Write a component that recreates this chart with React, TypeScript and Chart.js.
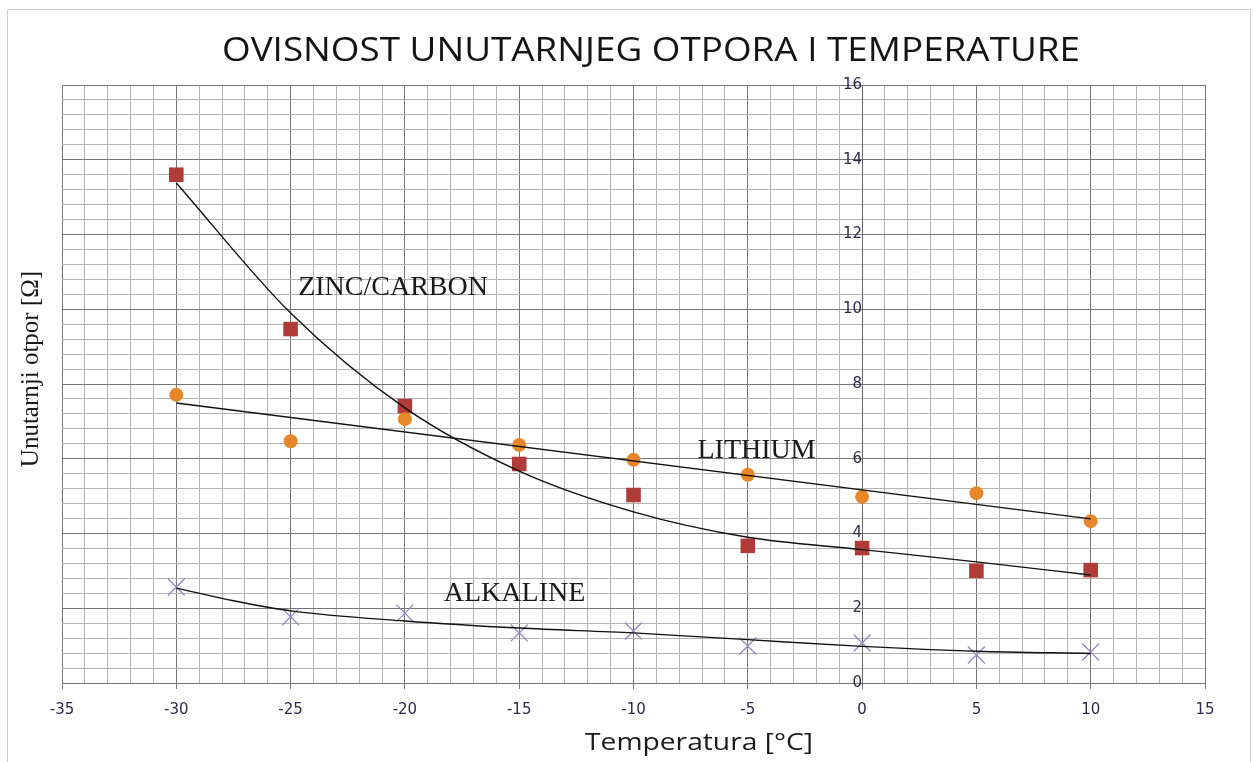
import React, { useEffect, useRef } from "react";
import { Chart, registerables } from "chart.js";

Chart.register(...registerables);

// Measured points (temperature in °C, internal resistance in Ω)
const temperatures = [-30, -25, -20, -15, -10, -5, 0, 5, 10];
const zincCarbon = [13.6, 9.47, 7.41, 5.86, 5.03, 3.67, 3.61, 3.0, 3.02];
const lithium = [7.71, 6.47, 7.06, 6.37, 5.97, 5.57, 4.98, 5.08, 4.33];
const alkaline = [2.57, 1.77, 1.87, 1.34, 1.39, 0.99, 1.07, 0.75, 0.83];

// Trend curves
const zincTrendX = [-30, -25, -20, -15, -10, -5, 0, 5, 10];
const zincTrendY = [13.38, 9.9, 7.36, 5.67, 4.58, 3.9, 3.57, 3.24, 2.89];
const lithiumTrendX = [-30, 10];
const lithiumTrendY = [7.49, 4.39];
const alkalineTrendX = [-30, -27.5, -25, -20, -15, -10, -5, 0, 5, 10];
const alkalineTrendY = [2.54, 2.2, 1.93, 1.66, 1.47, 1.34, 1.16, 0.98, 0.85, 0.79];

// Axis ticks
const xMin = -35;
const xMax = 15;
const xLabelStep = 5;
const yMin = 0;
const yMax = 16;
const yMinorStep = 0.4;
const yLabelStep = 2;

const seriesLabels = ["ZINC/CARBON", "LITHIUM", "ALKALINE"];
const titleText = "OVISNOST UNUTARNJEG OTPORA I TEMPERATURE";
const xTitleText = "Temperatura [°C]";
const yTitleText = "Unutarnji otpor [Ω]";

const zip = (xs: number[], ys: number[]) => xs.map((x, i) => ({ x, y: ys[i] }));

const MAJOR = "#777777";
const MINOR = "#b4b4b4";
const TICK_COLOR = "#2f2a48";

function fitText(ctx: CanvasRenderingContext2D, text: string, cx: number, cy: number, width: number) {
  const w = ctx.measureText(text).width;
  ctx.save();
  ctx.translate(cx, cy);
  ctx.scale(width / w, 1);
  ctx.textAlign = "center";
  ctx.textBaseline = "middle";
  ctx.fillText(text, 0, 0);
  ctx.restore();
}

const textPlugin = {
  id: "texts",
  afterDraw(chart: any) {
    const ctx = chart.ctx as CanvasRenderingContext2D;
    const xs = chart.scales.x;
    const ys = chart.scales.y;
    ctx.save();
    // outer frame
    ctx.strokeStyle = "#cfcfcf";
    ctx.lineWidth = 1;
    ctx.strokeRect(7.5, 9.5, 1243, 760);

    // title
    ctx.fillStyle = "#141414";
    ctx.font = '32px "Open Sans"';
    fitText(ctx, titleText, 651, 52, 858);

    // x title
    ctx.font = '24px "Open Sans"';
    ctx.fillStyle = "#1a1a1a";
    fitText(ctx, xTitleText, 699, 743, 228);

    // y title
    ctx.save();
    ctx.translate(31, 369);
    ctx.rotate(-Math.PI / 2);
    ctx.font = '25px "Liberation Serif"';
    ctx.textAlign = "center";
    ctx.textBaseline = "middle";
    ctx.fillText(yTitleText, 0, 0);
    ctx.restore();

    // series labels
    ctx.font = '28px "Liberation Serif"';
    ctx.textAlign = "left";
    ctx.textBaseline = "alphabetic";
    ctx.fillStyle = "#1a1a1a";
    const pos = [
      [-24.67, 10.38],
      [-7.2, 6.03],
      [-18.3, 2.2],
    ];
    seriesLabels.forEach((t, i) => {
      ctx.fillText(t, xs.getPixelForValue(pos[i][0]), ys.getPixelForValue(pos[i][1]));
    });
    ctx.restore();
  },
};

export default function App() {
  const ref = useRef<HTMLCanvasElement>(null);
  useEffect(() => {
    if (!ref.current) return;
    const chart = new Chart(ref.current, {
      type: "scatter",
      data: {
        datasets: [
          {
            label: "Zinc/Carbon trend",
            data: zip(zincTrendX, zincTrendY),
            showLine: true,
            borderColor: "#111",
            borderWidth: 1.4,
            pointRadius: 0,
            cubicInterpolationMode: "monotone",
          },
          {
            label: "Lithium trend",
            data: zip(lithiumTrendX, lithiumTrendY),
            showLine: true,
            borderColor: "#111",
            borderWidth: 1.4,
            pointRadius: 0,
          },
          {
            label: "Alkaline trend",
            data: zip(alkalineTrendX, alkalineTrendY),
            showLine: true,
            borderColor: "#111",
            borderWidth: 1.4,
            pointRadius: 0,
            cubicInterpolationMode: "monotone",
          },
          {
            label: "Lithium",
            data: zip(temperatures, lithium),
            pointStyle: "circle",
            pointRadius: 7,
            backgroundColor: "#e8872a",
            borderColor: "#e8872a",
            borderWidth: 0,
          },
          {
            label: "Zinc/Carbon",
            data: zip(temperatures, zincCarbon),
            pointStyle: "rect",
            pointRadius: 10.3,
            backgroundColor: "#b03c3a",
            borderColor: "#b03c3a",
            borderWidth: 0,
          },
          {
            label: "Alkaline",
            data: zip(temperatures, alkaline),
            pointStyle: "crossRot",
            pointRadius: 12,
            backgroundColor: "#9787c2",
            borderColor: "#9787c2",
            borderWidth: 1.3,
          },
        ],
      },
      options: {
        responsive: false,
        animation: false,
        layout: { padding: { left: 62, right: 48, top: 85, bottom: 29 } },
        plugins: {
          legend: { display: false },
          tooltip: { enabled: false },
          title: { display: false },
        },
        scales: {
          x: {
            type: "linear",
            min: xMin,
            max: xMax,
            afterBuildTicks: (scale: any) => {
              const t = [];
              for (let v = xMin; v <= xMax; v++) t.push({ value: v });
              scale.ticks = t;
            },
            afterFit: (scale: any) => {
              scale.height = 50;
            },
            ticks: {
              autoSkip: false,
              maxRotation: 0,
              padding: 12,
              color: TICK_COLOR,
              font: { family: "DejaVu Sans", size: 15 },
              callback: (v: any) => (Number(v) % xLabelStep === 0 ? String(v) : ""),
            },
            grid: {
              color: (c: any) => (c.tick && c.tick.value % xLabelStep === 0 ? MAJOR : MINOR),
              tickColor: (c: any) => (c.tick && c.tick.value % xLabelStep === 0 ? MAJOR : "rgba(0,0,0,0)"),
              tickLength: 6,
              lineWidth: 1,
            },
            border: { color: MAJOR, width: 1 },
          },
          y: {
            type: "linear",
            min: yMin,
            max: yMax,
            position: { x: 0 } as any,
            afterBuildTicks: (scale: any) => {
              const t = [];
              const n = Math.round((yMax - yMin) / yMinorStep);
              for (let i = 0; i <= n; i++) t.push({ value: +(yMin + i * yMinorStep).toFixed(2) });
              scale.ticks = t;
            },
            ticks: {
              autoSkip: false,
              padding: 18,
              color: TICK_COLOR,
              font: { family: "DejaVu Sans", size: 15 },
              callback: (v: any) => {
                const q = Number(v) / yLabelStep;
                return Math.abs(q - Math.round(q)) < 1e-6 ? String(Math.round(Number(v))) : "";
              },
            },
            grid: {
              color: (c: any) => {
                if (!c.tick) return MINOR;
                const q = c.tick.value / yLabelStep;
                return Math.abs(q - Math.round(q)) < 1e-6 ? MAJOR : MINOR;
              },
              drawTicks: false,
              lineWidth: 1,
            },
            border: { color: "#666666", width: 1 },
          },
        },
      },
      plugins: [textPlugin],
    } as any);
    return () => chart.destroy();
  }, []);
  return (
    <div style={{ position: "absolute", left: 0, top: 0, width: 1253, height: 762, background: "#fff" }}>
      <canvas ref={ref} width={1253} height={762} style={{ width: 1253, height: 762, display: "block" }} />
    </div>
  );
}
